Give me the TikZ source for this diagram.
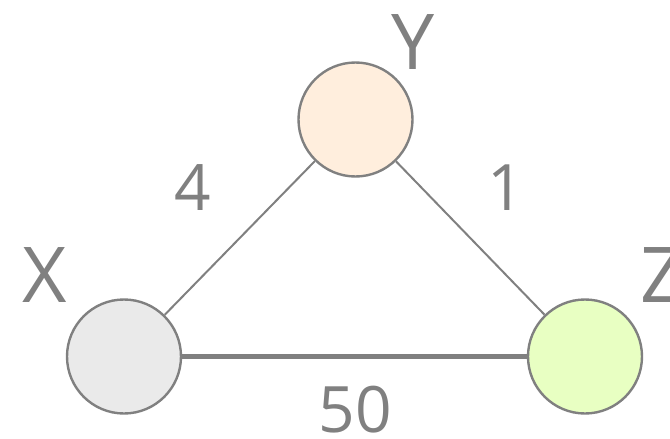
\documentclass[tikz,border=0pt]{standalone}
\usepackage{fontspec}
\setmainfont{Open Sans}
\definecolor{edgegray}{HTML}{808080}
\definecolor{xfill}{HTML}{EAEAEA}
\definecolor{yfill}{HTML}{FFEEDD}
\definecolor{zfill}{HTML}{E8FFC2}
\tikzset{
  vertex/.style={circle, draw=edgegray, line width=2.4pt, minimum size=114pt, inner sep=0pt},
  vlabel/.style={text=edgegray, font=\fontsize{77}{77}\selectfont, inner sep=0pt},
  wlabel/.style={text=edgegray, font=\fontsize{64}{64}\selectfont, inner sep=0pt},
  thin edge/.style={draw=edgegray, line width=2pt},
  thick edge/.style={draw=edgegray, line width=4.5pt},
}
\begin{document}
\begin{tikzpicture}[x=1pt,y=-1pt]
\useasboundingbox (0,0) rectangle (670,439);
\node[vertex, fill=xfill] (X) at (124,356.5) {};
\node[vertex, fill=yfill] (Y) at (355.5,119.5) {};
\node[vertex, fill=zfill] (Z) at (585,356.5) {};
\draw[thin edge] (X) -- (Y);
\draw[thin edge] (Y) -- (Z);
\draw[thick edge] (X) -- (Z);
\node[vlabel] (lx) at (45,275.5) {X};
\node[vlabel] (ly) at (413.5,42) {Y};
\node[vlabel] (lz) at (662,275.5) {Z};
\node[wlabel] (w4) at (193,188) {4};
\node[wlabel] (w1) at (506,188) {1};
\node[wlabel] (w50) at (355,410) {50};
\end{tikzpicture}
\end{document}
